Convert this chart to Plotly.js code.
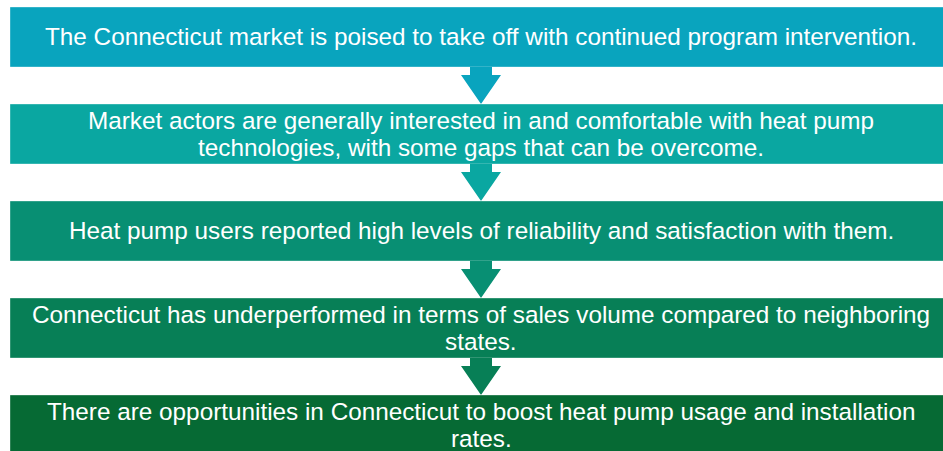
<!DOCTYPE html>
<html>
<head>
<meta charset="utf-8">
<script src="https://cdn.plot.ly/plotly-3.0.1.min.js"></script>
<style>html,body{margin:0;padding:0;background:#fff;}#chart{width:943px;height:451px;}</style>
</head>
<body>
<div id="chart"></div>
<script>
// Flow steps (top to bottom); "<br>" marks a line break
const steps = [
  "The Connecticut market is poised to take off with continued program intervention.",
  "Market actors are generally interested in and comfortable with heat pump<br>technologies, with some gaps that can be overcome.",
  "Heat pump users reported high levels of reliability and satisfaction with them.",
  "Connecticut has underperformed in terms of sales volume compared to neighboring<br>states.",
  "There are opportunities in Connecticut to boost heat pump usage and installation<br>rates."
];
const boxColors = ["#09A4BE", "#0AA7A1", "#088F73", "#077F56", "#066A34"];

// Layout geometry (pixel coordinates)
const W = 943, H = 451;
const boxLeft = 10, boxRight = 952, boxTop0 = 7, boxH = 60, step = 97;
const cx = (boxLeft + boxRight) / 2;
const shaftHalf = 11, headHalf = 20, shaftLen = 8;
const lineGap = 27;

const shapes = [];
const annotations = [];
steps.forEach((txt, i) => {
  const top = boxTop0 + i * step;
  const bottom = top + boxH;
  const mid = (top + bottom) / 2;
  shapes.push({
    type: "rect", xref: "x", yref: "y",
    x0: boxLeft, x1: boxRight, y0: top, y1: bottom,
    fillcolor: boxColors[i],
    line: {color: "rgba(255,255,255,0.35)", width: 1},
    layer: "below"
  });
  const lines = txt.split("<br>");
  lines.forEach((ln, j) => {
    annotations.push({
      xref: "x", yref: "y", x: cx,
      y: mid - 0.5 + (j - (lines.length - 1) / 2) * lineGap,
      text: ln, showarrow: false,
      xanchor: "center", yanchor: "middle", align: "center",
      font: {family: "Arial, 'Liberation Sans', sans-serif", size: 24.3, color: "#ffffff"}
    });
  });
  if (i < steps.length - 1) {
    const nextTop = boxTop0 + (i + 1) * step;
    const s = bottom + shaftLen;
    const path = `M ${cx - shaftHalf} ${bottom} L ${cx + shaftHalf} ${bottom} L ${cx + shaftHalf} ${s} ` +
                 `L ${cx + headHalf} ${s} L ${cx} ${nextTop} L ${cx - headHalf} ${s} L ${cx - shaftHalf} ${s} Z`;
    shapes.push({
      type: "path", xref: "x", yref: "y", path: path,
      fillcolor: boxColors[i], line: {width: 0}, layer: "below"
    });
  }
});

const layout = {
  width: W, height: H,
  margin: {l: 0, r: 0, t: 0, b: 0},
  paper_bgcolor: "#ffffff", plot_bgcolor: "#ffffff",
  xaxis: {range: [0, W], visible: false, fixedrange: true},
  yaxis: {range: [H, 0], visible: false, fixedrange: true},
  shapes: shapes,
  annotations: annotations,
  showlegend: false
};
Plotly.newPlot("chart", [], layout, {displayModeBar: false, staticPlot: true});
</script>
</body>
</html>
